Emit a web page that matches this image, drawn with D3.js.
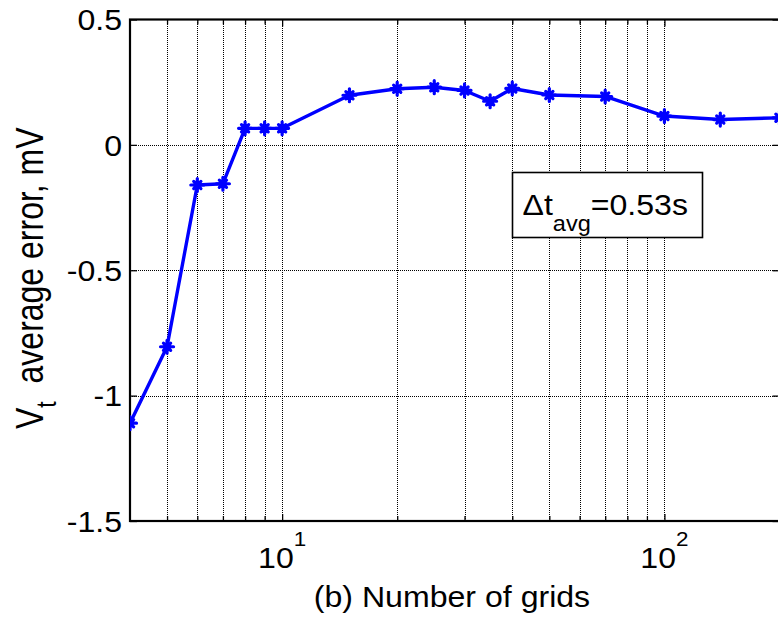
<!DOCTYPE html>
<html>
<head>
<meta charset="utf-8">
<script src="https://cdn.jsdelivr.net/npm/d3@7/dist/d3.min.js"></script>
<style>
  html, body { margin: 0; padding: 0; background: #fff; }
  svg { display: block; }
  text { font-family: "Liberation Sans", Arial, sans-serif; fill: #000; }
</style>
</head>
<body>
<svg id="chart" width="778" height="617"></svg>
<script>
// Number of grids vs. average terminal-voltage error
const grids = [4, 5, 6, 7, 8, 9, 10, 15, 20, 25, 30, 35, 40, 50, 70, 100, 140, 200];
const avgError = [-1.11, -0.805, -0.16, -0.155, 0.066, 0.066, 0.066, 0.198, 0.224, 0.230,
                  0.217, 0.174, 0.225, 0.199, 0.193, 0.115, 0.101, 0.108];
const yTicks = [-1.5, -1, -0.5, 0, 0.5];
const yTickLabels = ["-1.5", "-1", "-0.5", "0", "0.5"];
const xMajor = [10, 100];
const xMajorExp = ["1", "2"];
const xMinor = [5, 6, 7, 8, 9, 20, 30, 40, 50, 60, 70, 80, 90, 200];
const xLabel = "(b) Number of grids";
const annotation = { delta: "\u0394t", sub: "avg", rest: "=0.53s" };

const svg = d3.select("#chart");
const pLeft = 130, pRight = 779.5, pTop = 19.5, pBottom = 521;
const stretch = 1.07; // text is a little wider than tall

const x = d3.scaleLog().domain([4, 200]).range([pLeft, pRight]);
const y = d3.scaleLinear().domain([-1.5, 0.5]).range([pBottom, pTop]);

svg.append("defs").append("clipPath").attr("id", "plotClip")
  .append("rect").attr("x", pLeft).attr("y", pTop)
  .attr("width", pRight - pLeft).attr("height", pBottom - pTop);

// dotted grid
const grid = svg.append("g").attr("stroke", "#000").attr("stroke-width", 1)
  .attr("stroke-dasharray", "1,1").attr("shape-rendering", "crispEdges");
xMajor.concat(xMinor).forEach(v => {
  const px = Math.round(x(v)) + 0.5;
  grid.append("line").attr("x1", px).attr("x2", px).attr("y1", pTop).attr("y2", pBottom);
});
yTicks.filter(v => v > -1.5 && v < 0.5).forEach(v => {
  const py = Math.round(y(v)) + 0.5;
  grid.append("line").attr("x1", pLeft).attr("x2", pRight).attr("y1", py).attr("y2", py);
});

// axes with inward ticks on all four sides
const axisL = d3.axisLeft(y).tickValues(yTicks).tickSize(-7).tickFormat("");
const axisR = d3.axisRight(y).tickValues(yTicks).tickSize(-7).tickFormat("");
const axisBMajor = d3.axisBottom(x).tickValues(xMajor).tickSize(-7).tickFormat("");
const axisBMinor = d3.axisBottom(x).tickValues(xMinor).tickSize(-5).tickFormat("");
const axisTMajor = d3.axisTop(x).tickValues(xMajor).tickSize(-7).tickFormat("");
const axisTMinor = d3.axisTop(x).tickValues(xMinor).tickSize(-5).tickFormat("");

function styleAxis(g) {
  g.selectAll(".domain").remove();
  g.selectAll(".tick line").attr("stroke", "#000").attr("stroke-width", 1.3);
}
svg.append("g").attr("transform", `translate(${pLeft},0)`).call(axisL).call(styleAxis);
svg.append("g").attr("transform", `translate(${pRight},0)`).call(axisR).call(styleAxis);
svg.append("g").attr("transform", `translate(0,${pBottom})`).call(axisBMajor).call(styleAxis);
svg.append("g").attr("transform", `translate(0,${pBottom})`).call(axisBMinor).call(styleAxis);
svg.append("g").attr("transform", `translate(0,${pTop})`).call(axisTMajor).call(styleAxis);
svg.append("g").attr("transform", `translate(0,${pTop})`).call(axisTMinor).call(styleAxis);

// annotation box (drawn over the grid)
const box = { x0: 512.5, x1: 702.5, y0: 172.5, y1: 237.5 };
svg.append("rect").attr("x", box.x0).attr("y", box.y0)
  .attr("width", box.x1 - box.x0).attr("height", box.y1 - box.y0)
  .attr("fill", "#fff").attr("stroke", "#000").attr("stroke-width", 1.6);

// frame
svg.append("rect").attr("x", pLeft).attr("y", pTop)
  .attr("width", pRight - pLeft).attr("height", pBottom - pTop)
  .attr("fill", "none").attr("stroke", "#000").attr("stroke-width", 2.2);

// data line and asterisk markers
const plot = svg.append("g").attr("clip-path", "url(#plotClip)");
const pts = grids.map((g, i) => [g, avgError[i]]);
plot.append("path").datum(pts)
  .attr("fill", "none").attr("stroke", "#0000ff").attr("stroke-width", 3.4)
  .attr("stroke-linejoin", "round")
  .attr("d", d3.line().x(d => x(d[0])).y(d => y(d[1])));

const r = 6.5, rd = 3.6;
const starPath = `M0,${-r}L0,${r}M${-r},0L${r},0M${-rd},${-rd}L${rd},${rd}M${-rd},${rd}L${rd},${-rd}`;
plot.selectAll(".marker").data(pts).enter().append("path")
  .attr("class", "marker")
  .attr("transform", d => `translate(${x(d[0])},${y(d[1])})`)
  .attr("d", starPath)
  .attr("fill", "none").attr("stroke", "#0000ff").attr("stroke-width", 3.2)
  .attr("stroke-linecap", "round");

// y tick labels
yTicks.forEach((v, i) => {
  svg.append("text")
    .attr("transform", `translate(122,${y(v)}) scale(${stretch},1)`)
    .attr("text-anchor", "end").attr("dy", "0.36em")
    .style("font-size", "30px")
    .text(yTickLabels[i]);
});

// x tick labels as powers of ten
xMajor.forEach((v, i) => {
  const t = svg.append("text")
    .attr("transform", `translate(${x(v)},568) scale(${stretch},1)`)
    .attr("text-anchor", "middle").style("font-size", "30px");
  t.append("tspan").text("10");
  t.append("tspan").attr("dy", -22).style("font-size", "21px").text(xMajorExp[i]);
});

// x axis title
svg.append("text")
  .attr("transform", `translate(452,607) scale(${stretch},1)`)
  .attr("text-anchor", "middle").style("font-size", "30px")
  .text(xLabel);

// y axis title
const yl = svg.append("text")
  .attr("transform", `translate(43,${(pTop + pBottom) / 2 + 8}) scale(1.2,1) rotate(-90)`)
  .attr("text-anchor", "middle").style("font-size", "32px");
yl.append("tspan").text("V");
yl.append("tspan").attr("dy", 11).style("font-size", "23px").text("t");
yl.append("tspan").attr("dy", -11).attr("dx", 9).text(" average error, mV");

// annotation text
const at = svg.append("text")
  .attr("transform", `translate(522.5,215) scale(${stretch},1)`)
  .style("font-size", "30px");
at.append("tspan").text(annotation.delta);
at.append("tspan").attr("dy", 16).style("font-size", "22px").text(annotation.sub);
at.append("tspan").attr("dy", -16).text(annotation.rest);
</script>
</body>
</html>
